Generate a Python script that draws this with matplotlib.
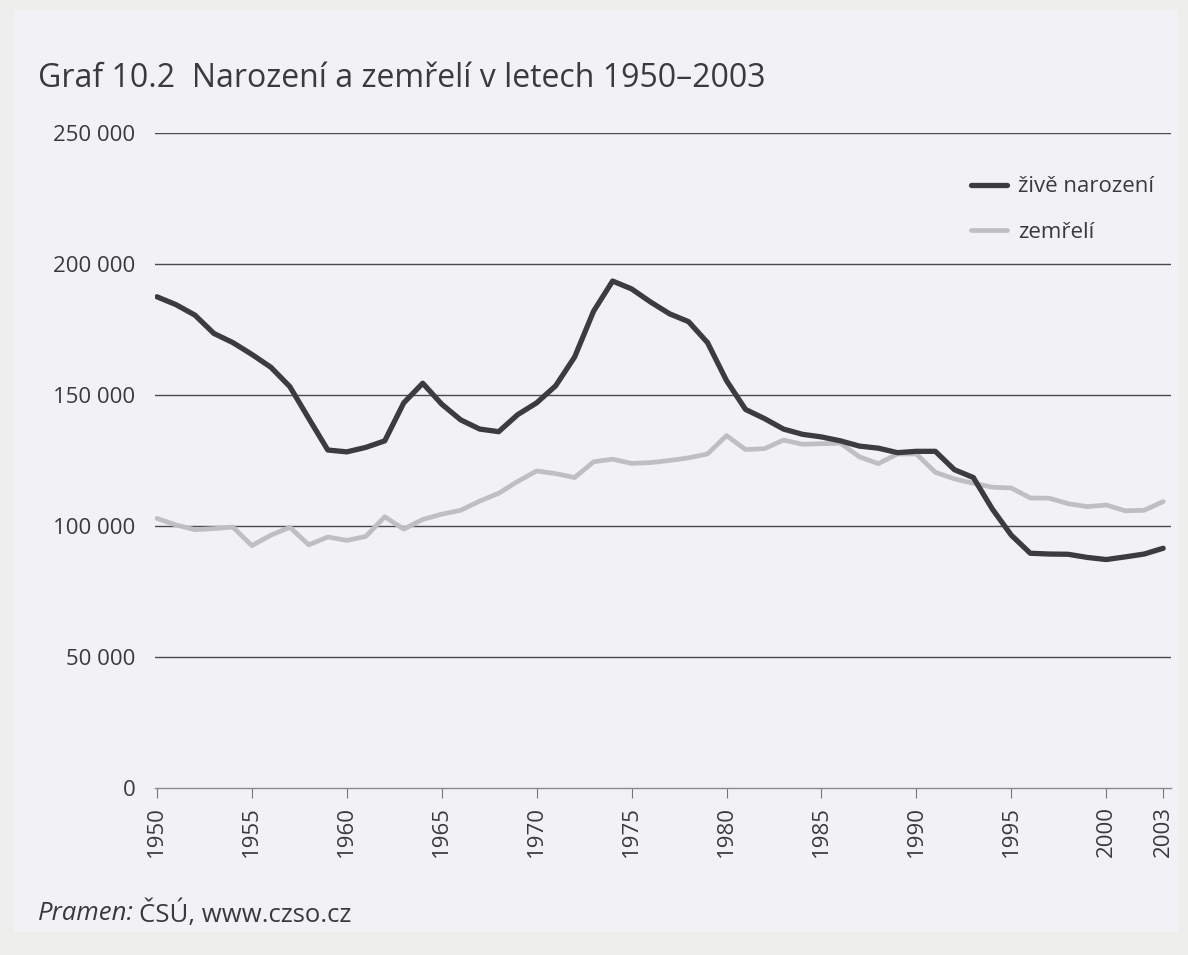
import numpy as np
import matplotlib.pyplot as plt
from matplotlib.patches import Rectangle

years = np.arange(1950, 2004)

# živě narození
births = [187500, 184500, 180500, 173500, 170000, 165500, 160600, 153200, 141000, 129000,
          128300, 130000, 132500, 147000, 154500, 146500, 140500, 137000, 136000, 142500,
          147000, 153500, 164500, 182000, 193500, 190500, 185500, 181000, 178000, 170000,
          155500, 144500, 141000, 137000, 135000, 134000, 132500, 130500, 129700, 128000,
          128500, 128500, 121500, 118500, 106500, 96500, 89600, 89300, 89200, 88000,
          87200, 88200, 89300, 91500]

# zemřelí
deaths = [102900, 100400, 98600, 99000, 99600, 92500, 96500, 99500, 92800, 95800,
          94500, 96000, 103500, 98800, 102500, 104500, 106000, 109500, 112500, 117000,
          121000, 120000, 118500, 124500, 125500, 123900, 124200, 125000, 126000, 127500,
          134500, 129200, 129500, 132800, 131200, 131400, 131600, 126400, 123800, 127500,
          127500, 120500, 118000, 116300, 114800, 114500, 110700, 110600, 108500, 107400,
          108000, 105800, 106000, 109300]

y_ticks = [0, 50000, 100000, 150000, 200000, 250000]
y_labels = ["0", "50 000", "100 000", "150 000", "200 000", "250 000"]
x_ticks = [1950, 1955, 1960, 1965, 1970, 1975, 1980, 1985, 1990, 1995, 2000, 2003]

plt.rcParams['font.family'] = ['Open Sans', 'DejaVu Sans']
bg = '#f2f2f6'
txt = '#3a3a3c'

fig = plt.figure(figsize=(11.88, 9.55), dpi=100, facecolor='#eeeeec')
# naskenovaná stránka
fig.patches.append(Rectangle((14 / 1188, 1 - 932 / 955), 1164 / 1188, 922 / 955,
                             transform=fig.transFigure, facecolor=bg, edgecolor='none', zorder=-10))

ax = fig.add_axes([0.1305, 0.1749, 0.855, 0.6858])
ax.set_facecolor('none')

ax.plot(years, deaths, color='#bebec3', lw=3.4, label='zemřelí', solid_capstyle='round')
ax.plot(years, births, color='#3c3c3e', lw=3.8, label='živě narození', solid_capstyle='round')

for v in y_ticks[1:]:
    ax.axhline(v, color='#4a4a4c', lw=1.0, zorder=0)

ax.set_xlim(1949.9, 2003.4)
ax.set_ylim(0, 250000)
ax.set_yticks(y_ticks)
ax.set_yticklabels(y_labels, fontsize=16, color=txt)
ax.set_xticks(x_ticks)
ax.set_xticklabels([str(x) for x in x_ticks], rotation=90, fontsize=16, color=txt)
ax.tick_params(axis='y', length=0, pad=14)
ax.tick_params(axis='x', length=7, width=0.8, color='#777777', pad=6)

for s in ['top', 'right', 'left']:
    ax.spines[s].set_visible(False)
ax.spines['bottom'].set_color('#8a8a8c')
ax.spines['bottom'].set_linewidth(1.0)

handles, labels = ax.get_legend_handles_labels()
leg = ax.legend(handles[::-1], labels[::-1], loc='upper left', bbox_to_anchor=(0.808, 0.827),
                bbox_transform=fig.transFigure, frameon=False, fontsize=16,
                handlelength=1.6, handletextpad=0.5, labelspacing=1.1, borderpad=0)
for t in leg.get_texts():
    t.set_color(txt)

fig.text(0.032, 0.918, "Graf 10.2  Narození a zemřelí v letech 1950–2003",
         fontsize=23, color=txt, va='center', ha='left')

# pramen: kurzíva + obyčejný text
r = fig.canvas.get_renderer()
t1 = fig.text(0.032, 0.043, "Pramen:", fontsize=18.5, style='italic', color=txt,
              va='center', ha='left')
bb = t1.get_window_extent(renderer=r)
fig.text((bb.x1 + 5) / fig.bbox.width, 0.043, "ČSÚ, www.czso.cz", fontsize=18.5, color=txt,
         va='center', ha='left')

fig.savefig('out.png', dpi=100, facecolor=fig.get_facecolor())
